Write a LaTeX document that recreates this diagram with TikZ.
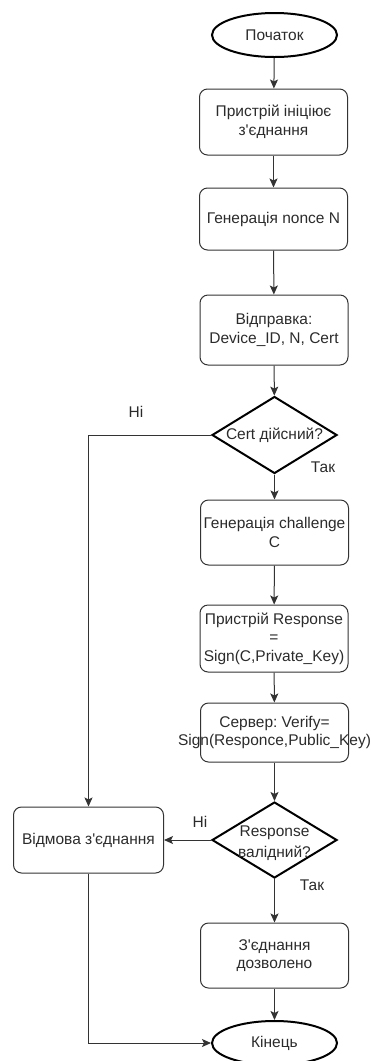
\documentclass[tikz,border=0pt]{standalone}
\usepackage{fontspec}
\newfontfamily\flowfont{Liberation Sans}
\usetikzlibrary{shapes.geometric,arrows.meta}
\frenchspacing
\definecolor{ink}{HTML}{2B2B2B}
\definecolor{edge}{HTML}{333333}
\tikzset{
  base/.style={font=\flowfont\fontsize{15.5}{18.5}\selectfont, text=ink},
  procbox/.style={base, draw=edge, line width=1pt, rounded corners=8pt,
    minimum width=148pt, inner sep=0pt, align=center},
  terminal/.style={base, ellipse, draw=black, line width=2pt,
    minimum width=125pt, minimum height=44pt, inner sep=0pt},
  decision/.style={diamond, draw=black, line width=2pt,
    minimum width=125pt, minimum height=77pt, inner sep=0pt},
  dtext/.style={base, align=center, inner sep=0pt},
  flow/.style={draw=edge, line width=1pt,
    -{Stealth[length=9pt,width=8pt,inset=2pt]}},
  tag/.style={base, inner sep=0pt}
}
\begin{document}
\begin{tikzpicture}[x=1pt,y=-1pt]
\useasboundingbox (0,0) rectangle (371,1061);

% main column
\node[terminal] (start) at (274.5,35) {Початок};
\node[procbox, minimum height=66pt] (init) at (273.5,122) {Пристрій ініціює\\з'єднання};
\node[procbox, minimum height=62pt] (nonce) at (273.5,219) {Генерація nonce N};
\node[procbox, minimum height=70pt] (send) at (274,330) {Відправка:\\Device\_ID, N, Cert};
\node[decision] (cert) at (274.5,435) {};
\node[dtext] (certt) at (cert) {Cert дійсний?};
\node[procbox, minimum height=65pt] (chal) at (274.5,532.5) {Генерація challenge\\C};
\node[procbox, minimum height=67pt] (resp) at (274,638.5) {Пристрій Response\\=\\Sign(C,Private\_Key)};
% the second line is wider than the box and runs past both sides
\node[procbox, minimum height=59pt] (verify) at (274.5,732.5) {Сервер: Verify=\\\makebox[0pt]{Sign(Responce,Public\_Key)}};
\node[decision, minimum height=76pt] (valid) at (274.5,840) {};
\node[dtext, font=\flowfont\fontsize{15.5}{21.5}\selectfont] (validt) at (274.5,843) {Response\\валідний?};
\node[procbox, minimum height=65pt] (ok) at (274.5,955.5) {З'єднання\\дозволено};
\node[terminal] (stop) at (274.5,1043) {Кінець};

% rejection branch
\node[procbox, minimum height=66pt, minimum width=150pt] (fail) at (88.5,840) {Відмова з'єднання};

% branch labels
\node[tag] (no1) at (136,412) {Ні};
\node[tag] (yes1) at (323,467) {Так};
\node[tag] (no2) at (200,822) {Ні};
\node[tag] (yes2) at (312,885) {Так};

% connectors
\draw[flow] (start) -- (init);
\draw[flow] (init) -- (nonce);
\draw[flow] (nonce) -- (send);
\draw[flow] (send) -- (cert);
\draw[flow] (cert.south) -- (chal);
\draw[flow] (chal) -- (resp);
\draw[flow] (resp) -- (verify);
\draw[flow] (verify) -- (valid);
\draw[flow] (valid.south) -- (ok);
\draw[flow] (ok) -- (stop);
\draw[flow] (cert.west) -| (fail.north);
\draw[flow] (valid.west) -- (fail.east);
\draw[flow] (fail.south) |- (stop.west);
\end{tikzpicture}
\end{document}
